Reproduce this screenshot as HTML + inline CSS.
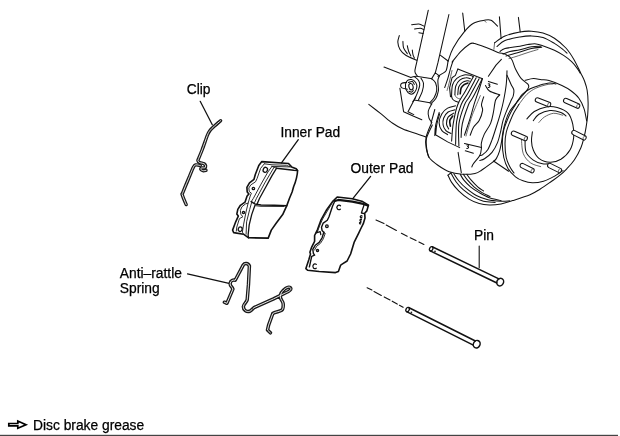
<!DOCTYPE html>
<html><head><meta charset="utf-8">
<style>
html,body{margin:0;padding:0;background:#fff;}
body{width:620px;height:436px;overflow:hidden;position:relative;font-family:"Liberation Sans",sans-serif;}
svg{position:absolute;left:0;top:0;filter:grayscale(1);}
text{font-family:"Liberation Sans",sans-serif;font-size:13.8px;fill:#000;stroke:#000;stroke-width:0.25px;}
.l{fill:none;stroke:#111;stroke-width:1.25;stroke-linecap:round;stroke-linejoin:round;}
.t{fill:none;stroke:#333;stroke-width:0.8;stroke-linecap:round;stroke-linejoin:round;}
.w{fill:none;stroke:#fff;stroke-linecap:round;stroke-linejoin:round;}
#brake .l{stroke-width:1.05;}
#innerpad .t,#outerpad .t{stroke-width:0.95;stroke:#222;}
#innerpad .l,#outerpad .l{stroke-width:1.3;}
#brake .t{stroke-width:0.75;}
.k{fill:none;stroke:#1a1a1a;stroke-linecap:round;stroke-linejoin:round;}
</style></head><body>
<svg width="620" height="436" viewBox="0 0 620 436">
<rect width="620" height="436" fill="#fff"/>
<!-- LABELS -->
<g id="labels">
<text x="186.7" y="94.3">Clip</text>
<text x="280.4" y="136.5">Inner Pad</text>
<text x="350.6" y="172.7">Outer Pad</text>
<text x="474" y="240.4">Pin</text>
<text x="119.8" y="277.6">Anti–rattle</text>
<text x="119.8" y="292.6">Spring</text>
<text x="33" y="429.5">Disc brake grease</text>
</g>
<!-- BOTTOM LINE -->
<rect x="0" y="434.8" width="618" height="1.2" fill="#444"/>
<!-- ARROW -->
<g id="arrow">
<path d="M8.8,423.5 L17.8,423.5 L17.8,421 L26,424.7 L17.8,428.3 L17.8,425.9 L8.8,425.9 Z" fill="#fff" stroke="#000" stroke-width="1.7" stroke-linejoin="miter"/>
</g>
<!-- CLIP -->
<g id="clip">
<path class="l" d="M200.2,101.3 L212.3,124.8"/>
<path class="k" stroke-width="3.4" d="M220.6,120.7 C219.6,121.6 216.3,124.4 214.5,126.0 C212.7,127.6 211.2,128.9 210.0,130.5 C208.8,132.1 208.6,132.2 207.3,135.5 C206.0,138.8 203.7,145.9 202.1,150.0 C200.5,154.1 198.6,158.6 197.9,160.3 L197.9,160.3 C198.0,160.6 198.2,161.6 198.6,162.0 C199.0,162.4 199.6,162.5 200.5,162.8 C201.4,163.1 203.2,163.3 204.1,163.8 C204.9,164.3 205.5,165.1 205.6,165.8 C205.7,166.5 205.5,167.6 204.8,167.9 C204.1,168.2 202.2,167.6 201.6,167.9 C200.9,168.2 200.6,169.0 200.9,169.5 C201.2,170.0 202.6,170.6 203.4,170.7 C204.2,170.8 205.6,170.4 206.0,170.3"/>
<path class="w" stroke-width="0.85" d="M220.6,120.7 C219.6,121.6 216.3,124.4 214.5,126.0 C212.7,127.6 211.2,128.9 210.0,130.5 C208.8,132.1 208.6,132.2 207.3,135.5 C206.0,138.8 203.7,145.9 202.1,150.0 C200.5,154.1 198.6,158.6 197.9,160.3 L197.9,160.3 C198.0,160.6 198.2,161.6 198.6,162.0 C199.0,162.4 199.6,162.5 200.5,162.8 C201.4,163.1 203.2,163.3 204.1,163.8 C204.9,164.3 205.5,165.1 205.6,165.8 C205.7,166.5 205.5,167.6 204.8,167.9 C204.1,168.2 202.2,167.6 201.6,167.9 C200.9,168.2 200.6,169.0 200.9,169.5 C201.2,170.0 202.6,170.6 203.4,170.7 C204.2,170.8 205.6,170.4 206.0,170.3"/>
<path class="k" stroke-width="3.4" d="M200.3,165.6 C199.6,165.5 197.1,164.6 195.9,164.9 C194.8,165.2 194.7,164.7 193.4,167.2 C192.1,169.7 189.8,175.8 188.0,180.0 C186.2,184.2 183.8,190.1 182.8,192.6 C181.9,195.1 181.7,192.9 182.3,194.9 C182.9,196.9 185.5,203.0 186.2,204.6"/>
<path class="w" stroke-width="0.85" d="M200.3,165.6 C199.6,165.5 197.1,164.6 195.9,164.9 C194.8,165.2 194.7,164.7 193.4,167.2 C192.1,169.7 189.8,175.8 188.0,180.0 C186.2,184.2 183.8,190.1 182.8,192.6 C181.9,195.1 181.7,192.9 182.3,194.9 C182.9,196.9 185.5,203.0 186.2,204.6"/>
</g>
<!-- INNERPAD -->
<g id="innerpad">
<path class="l" d="M298.3,139.7 L281.5,162.9"/>
<path class="l" style="stroke-width:1.6" d="M261.8,161.6 L288.5,163.5 L291.6,166.9 L296.2,168.7 L297.6,170.5 C297.4,175 296,181 293.6,186.8 L292.1,192 L289.5,198.3 L286.8,205.6 L282.7,214.6 L276.5,222.8 L271.3,230.1 L268.2,238.1 L248.6,237.8 L243.5,234.2 L233.7,232.6 L232.6,230.1 L235.7,221.8 L238.3,216.1 L236.8,214.1 L237.8,209.4 L240.4,205.3 L245,202.2 L247.1,196 L248.9,193.9 L247.2,191.9 L246.9,187.4 L249.5,182.8 L254,179.3 L255.3,174.5 L258.8,165.5 Z"/>
<!-- inner top line and inner left line -->
<path class="t" d="M264.3,163.8 L272,164.8 L286.4,165.3 L290.5,167"/>
<path class="t" d="M264.3,163.8 L260.6,168.4 L257,178.7 L255.5,181.8 L250.8,184.9 L248.8,188 L249.3,191.6 L251.4,193.2 L250.2,196 L248.1,203.2 L245.5,203.9 L241.9,206.8 L240.4,210.4 L240.9,214.6 L243,216.6 L239.4,218.7 L236.8,227 L236.3,231.1"/>
<!-- friction top -->
<path class="l" style="stroke-width:1.6" d="M276.6,168.2 L293.7,170.3 L297.4,170.5"/>
<path class="t" d="M272,166.4 L289.5,166.9"/>
<path class="t" d="M272,166.4 L276.6,168.2"/>
<!-- three diagonal lines -->
<path class="t" d="M272,166.4 L267.9,172 L260.6,184.9 L253.4,198.3 L251.2,201.7"/>
<path class="t" d="M274,167.4 L264.8,182.9 L256.5,198.3 L254.6,202.5"/>
<path class="l" d="M276.6,168.2 L272,175.6 L265.8,187 L259.6,198.3 L257.2,203.8"/>
<!-- groove -->
<path class="l" style="stroke-width:1.5" d="M251.2,201.7 L254.8,203.9 L261,204.9 L274.4,205.3 L286.8,205.7"/>
<path class="t" d="M254.8,205.6 L261,206.3 L284,206.5"/>
<!-- lower pad left edge + plate edge -->
<path class="l" d="M254.8,205.8 L251.7,214.6 L249.2,224.9 L248.1,235.2 L248.6,237.8"/>
<path class="t" d="M251.7,202.2 L249.7,209.4 L246.6,221.8 L246.1,234.2"/>
<path class="t" d="M248.1,203.2 L246,212 L243.5,224.9 L242.4,232.1 L243.5,234.2"/>
<!-- holes -->
<ellipse class="l" cx="265.3" cy="169.8" rx="2.1" ry="2.5" transform="rotate(25 265.3 169.8)"/>
<circle class="l" cx="253.4" cy="188.5" r="1.2"/>
<circle class="l" cx="243.5" cy="212.5" r="1.1"/>
<ellipse class="l" cx="240.2" cy="229.2" rx="1.9" ry="2.3" transform="rotate(20 240.2 229.2)"/>
</g>
<!-- OUTERPAD -->
<g id="outerpad">
<path class="l" d="M370.6,176.4 L352.8,198.6"/>
<path class="l" style="stroke-width:1.6" d="M337.2,197 L352.3,198.7 L362.7,201.6 L368.5,205.1 L366.8,210.9 L364.7,213.2 L365,217.9 L363.3,223.7 L360.4,229.5 L358.7,233.1 L354.1,242.4 L350.6,254 L347.1,261 L342.5,263.9 L340.7,265.1 L338.4,271.5 L335.5,272.6 L319.2,271.5 L307.6,270.3 L305.9,268.6 L308.8,259.8 L310.5,254 L309.9,252.3 L311.7,247.1 L314.6,241.3 L314.6,235.5 L317.5,229.6 L320.9,220.2 L326.7,209.7 L332.5,201.6 Z"/>
<!-- thick second top line -->
<path class="l" style="stroke-width:2.1" d="M334.8,201 L338.3,199.9 L352.3,201.6 L363.3,203.9 L367.8,205.6"/>
<!-- notch -->
<path class="l" d="M364.2,204.4 L361.4,213 L364.4,213.7"/>
<!-- inner left contour -->
<path class="l" style="stroke-width:1.4" d="M334.8,201 L332.5,206.3 L329,216.7 L327.3,220.2 L323.2,223.1 L321.5,227.2 L322.1,230.6 L324.4,233 L323.9,232 L322.1,237.8 L319.2,242.4 L315.2,245.3 L312.8,249.4 L313.4,253.5 L314.6,255.2 L311.7,256.4 L309.4,266.8"/>
<path class="t" d="M333.6,200.6 L326.7,212.1 L322.6,219 L319.5,226 L317.4,231.8"/>
<path class="t" d="M325.2,233.5 L323.3,238.8 L320.4,243.4 L316.6,246.3 L314.6,250"/>
<path class="l" d="M316.2,232.8 L320.2,231.6 L320.8,234.6"/>
<!-- holes -->
<path class="l" d="M340.5,205.8 A2.1,2.3 0 1 0 340.3,209.2"/>
<circle class="l" cx="326.9" cy="226.2" r="1.3"/>
<circle class="l" cx="317.5" cy="250.6" r="1.1"/>
<path class="l" d="M316.3,264.4 A2.1,2.4 0 1 0 316.2,268.2"/>
<path class="l" d="M362,216 A1,1 0 1 0 361.8,217.6"/>
<path class="l" d="M361.4,219.4 A0.9,0.9 0 1 0 361.2,221 M360.8,222.4 A0.8,0.8 0 1 0 360.6,223.8"/>
</g>
<!-- SPRING -->
<g id="spring">
<path class="l" d="M187.5,273.8 L229,283.4"/>
<path class="k" stroke-width="3.5" d="M224.4,302.2 L226.9,303.3 L229.6,296.9 L232.9,289.1 C232,286.5 229.8,286 230.2,283.2 C230.6,280.5 233,279.8 235.2,280.2 L240.3,270.6 L243.3,264.9 C244.5,263 248,262.8 249.4,266 L248.5,284.2 L247.2,299.8 C246.5,302.5 243.5,304 243.4,306.5 C243.3,310 246.5,312.2 249.6,311.3 C251.5,310.6 252.5,308.8 254,307.6 L273.5,298.9 L285.2,293 C288,291.8 291.2,290.6 290.8,288.6 C290.3,286.4 287.6,287 285.6,288.4 C283,290.2 280.3,293 280.3,296.9 C280.4,299.5 283,301.2 283.2,303.9 C283.4,306.8 283.3,309 281.6,310.3 C279.5,311.6 275,311.9 272.8,313.5 L268.6,325.2 L267.5,330 L270.4,332.8"/>
<path class="w" stroke-width="0.9" d="M224.4,302.2 L226.9,303.3 L229.6,296.9 L232.9,289.1 C232,286.5 229.8,286 230.2,283.2 C230.6,280.5 233,279.8 235.2,280.2 L240.3,270.6 L243.3,264.9 C244.5,263 248,262.8 249.4,266 L248.5,284.2 L247.2,299.8 C246.5,302.5 243.5,304 243.4,306.5 C243.3,310 246.5,312.2 249.6,311.3 C251.5,310.6 252.5,308.8 254,307.6 L273.5,298.9 L285.2,293 C288,291.8 291.2,290.6 290.8,288.6 C290.3,286.4 287.6,287 285.6,288.4 C283,290.2 280.3,293 280.3,296.9 C280.4,299.5 283,301.2 283.2,303.9 C283.4,306.8 283.3,309 281.6,310.3 C279.5,311.6 275,311.9 272.8,313.5 L268.6,325.2 L267.5,330 L270.4,332.8"/>
</g>
<!-- PINS -->
<g id="pins">
<path class="l" style="stroke-width:1.1" d="M479.2,246 L479.2,267.8"/>
<path class="l" style="stroke-width:1.1" stroke-linecap="butt" d="M376.0,220.0 L384.0,223.6 M386.2,225.0 L396.4,230.4 M401.4,233.3 L407.2,236.2 M410.2,237.7 L416.0,240.6 M418.9,242.0 L423.9,244.5 M367.1,287.7 L371.9,290.0 M374.0,291.5 L381.3,295.4 M384.2,296.9 L390.0,300.0 M392.2,301.2 L397.2,304.1 M399.4,305.3 L403.1,307.3 "/>
<path d="M432.2,246.7 L498.9,278.9 L496.9,283.0 L430.2,250.9 Z" fill="#fff" stroke="none"/>
<path class="l" style="stroke-width:1.5" d="M432.2,246.7 L498.9,278.9"/>
<path class="l" style="stroke-width:1.5" d="M430.2,250.9 L496.9,283.0"/>
<ellipse class="l" style="stroke-width:1.3" cx="431.2" cy="248.8" rx="1.6" ry="2.3" fill="#fff" transform="rotate(25.8 431.2 248.8)"/>
<circle cx="435.0" cy="251.4" r="0.85" fill="#222"/>
<ellipse class="l" style="stroke-width:1.5" cx="500.2" cy="282.1" rx="3.3" ry="3.9" fill="#fff" transform="rotate(25.8 500.2 282.1)"/>
<path d="M408.6,307.5 L475.4,341.0 L473.3,345.1 L406.6,311.7 Z" fill="#fff" stroke="none"/>
<path class="l" style="stroke-width:1.5" d="M408.6,307.5 L475.4,341.0"/>
<path class="l" style="stroke-width:1.5" d="M406.6,311.7 L473.3,345.1"/>
<ellipse class="l" style="stroke-width:1.3" cx="407.6" cy="309.6" rx="1.6" ry="2.3" fill="#fff" transform="rotate(26.6 407.6 309.6)"/>
<circle cx="411.4" cy="312.3" r="0.85" fill="#222"/>
<ellipse class="l" style="stroke-width:1.5" cx="476.7" cy="344.2" rx="3.3" ry="3.9" fill="#fff" transform="rotate(26.6 476.7 344.2)"/>
</g>
<!-- BRAKE -->
<g id="brake">
<path class="l" d="M428.3,10.2 C427.3,14.5 424.4,27.6 422.5,36.3 C420.6,45.0 418.0,56.5 416.7,62.4 C415.4,68.3 414.8,69.3 414.9,71.5 C415.0,73.7 416.8,75.0 417.2,75.7"/>
<path class="l" d="M448.9,14.5 L438.0,62.4 L435.3,72.8"/>
<path class="l" d="M431.7,78.6 L435.3,72.8 L439.4,75.9"/>
<path class="l" d="M411.6,24.7 C412.8,24.6 416.8,23.8 418.9,24.0 C420.9,24.2 423.1,25.8 423.9,26.1"/>
<path class="l" d="M414.5,29.0 C415.5,28.9 418.7,28.2 420.3,28.3 C421.9,28.4 423.3,29.6 423.9,29.8"/>
<path class="l" d="M418.9,32.7 L423.2,33.4"/>
<path class="l" d="M399.3,35.6 C399.1,36.7 397.7,39.8 397.8,42.1 C397.9,44.4 398.7,47.2 400.0,49.4 C401.3,51.6 403.0,53.4 405.8,55.2 C408.6,57.0 414.9,59.4 416.7,60.2"/>
<path class="l" d="M402.9,41.4 C403.0,42.5 402.9,45.8 403.6,47.9 C404.3,50.0 406.7,52.7 407.3,53.7"/>
<path class="l" d="M407.3,45.7 C407.5,46.7 408.1,49.8 408.7,51.5 C409.3,53.2 410.5,55.2 410.9,55.9"/>
<path class="l" d="M412.3,50.1 C412.4,51.0 412.7,53.9 413.1,55.2 C413.5,56.5 414.3,57.6 414.5,58.1"/>
<path class="l" d="M384.0,67.1 L410.9,77.6"/>
<path class="l" d="M414.3,76.6 C415.0,77.2 417.7,79.0 418.6,80.5 C419.5,82.0 419.9,83.5 419.7,85.4 C419.5,87.3 418.5,89.8 417.7,92.1 C416.9,94.3 415.5,97.3 414.7,98.9 C413.9,100.5 413.1,101.1 412.8,101.6"/>
<path class="l" d="M421.0,78.2 C421.4,79.1 423.3,81.2 423.5,83.4 C423.7,85.7 423.1,88.9 422.2,91.7 C421.3,94.5 418.9,98.9 418.3,100.3"/>
<path class="l" d="M411.4,77.3 C412.2,77.1 414.1,76.2 416.2,76.2 C418.3,76.2 421.4,77.1 424.0,77.5 C426.6,77.9 430.4,78.6 431.7,78.8"/>
<path class="l" d="M431.7,78.8 C432.4,79.5 434.8,81.1 435.6,83.0 C436.4,84.9 436.9,87.8 436.7,90.2 C436.5,92.6 435.3,95.4 434.2,97.5 C433.1,99.6 430.5,101.9 429.8,102.8"/>
<path class="l" d="M439.4,75.9 C439.1,76.6 438.1,78.3 437.9,80.0 C437.7,81.7 438.1,84.1 438.2,86.0 C438.3,87.9 438.7,89.1 438.3,91.2 C437.9,93.3 437.1,96.4 435.8,98.5 C434.5,100.6 431.4,103.1 430.5,104.0"/>
<path class="l" d="M414.3,99.9 L429.8,102.8"/>
<path class="l" d="M406.6,82.4 C405.8,82.6 402.9,82.8 401.9,83.3 C400.9,83.8 400.6,84.8 400.6,85.6 C400.6,86.4 400.8,87.3 401.9,87.9 C403.0,88.5 406.5,89.0 407.4,89.2"/>
<path class="l" d="M408.0,92.6 C407.6,91.8 405.8,89.8 405.5,88.0 C405.2,86.2 405.5,82.9 406.5,81.5 C407.5,80.1 409.9,79.4 411.4,79.6 C412.9,79.8 414.8,81.2 415.7,82.5 C416.6,83.8 417.0,85.7 416.8,87.3 C416.6,88.9 415.6,90.9 414.7,92.1 C413.8,93.2 412.5,94.1 411.4,94.2 C410.3,94.3 408.6,92.9 408.0,92.6"/>
<path class="l" d="M408.5,82.5 C409.1,82.3 411.3,81.2 412.3,81.5 C413.3,81.8 414.0,83.9 414.3,84.4"/>
<path class="l" d="M408.9,91.2 C409.4,91.3 411.1,92.3 411.8,92.1 C412.5,91.9 413.1,90.5 413.3,90.2"/>
<ellipse class="l" cx="411" cy="86.7" rx="2.1" ry="3.2" transform="rotate(-15 411 86.7)"/>
<path class="l" d="M399.9,88.3 L403.6,111.7 L413.1,116.0 L421.8,119.7"/>
<path class="l" d="M415.7,97.0 L408.0,111.7 L413.8,114.6"/>
<path class="l" d="M368.8,104.4 C370.9,106.0 377.1,110.8 381.1,113.9 C385.1,117.1 389.1,120.8 392.7,123.3 C396.3,125.8 399.0,127.4 402.9,129.1 C406.8,130.8 412.1,132.2 416.0,133.5 C419.9,134.8 424.4,136.5 426.1,137.1"/>
<path class="l" d="M431.9,103.7 C431.3,104.9 428.8,108.6 428.3,111.0 C427.8,113.4 428.4,116.3 429.0,118.2 C429.6,120.1 431.4,121.9 431.9,122.6"/>
<path class="l" d="M431.5,123.0 C430.6,125.3 427.0,133.0 426.1,137.1 C425.2,141.2 425.6,143.9 426.1,147.3 C426.6,150.7 428.5,155.7 429.0,157.4"/>
<path class="l" d="M434.8,109.5 L431.2,122.6"/>
<path class="l" d="M439.2,112.4 C438.6,114.6 436.3,121.6 435.6,125.5 C434.9,129.4 434.9,133.9 434.8,135.6"/>
<path class="l" d="M462.7,13.1 L464.8,31.2"/>
<path class="l" d="M448.1,61.0 C449.0,58.8 450.4,52.9 453.2,47.9 C456.0,42.9 461.4,35.3 464.8,31.2 C468.2,27.1 470.2,25.0 473.5,23.2 C476.8,21.4 481.5,20.8 484.4,20.3 C487.3,19.8 488.8,19.3 491.0,20.3 C493.2,21.3 496.4,25.1 497.5,26.1"/>
<path class="t" d="M484.5,20.8 L486.0,22.3"/>
<path class="l" d="M499.4,16.7 L501.1,38.5"/>
<path class="l" d="M518.4,17.4 L520.2,31.9"/>
<path class="l" d="M440.2,55.2 L448.1,61.0"/>
<path class="l" d="M452.1,62.1 C453.6,60.3 458.0,54.4 460.9,51.4 C463.8,48.4 467.6,45.4 469.7,44.0 C471.8,42.6 473.0,43.3 473.6,43.2"/>
<path class="l" d="M473.6,43.2 C475.7,43.9 482.1,46.0 486.2,47.5 C490.2,49.0 494.6,51.2 497.9,52.4 C501.1,53.5 503.4,53.3 505.7,54.4 C508.0,55.5 510.0,56.8 511.6,59.2 C513.2,61.6 513.9,65.8 515.5,69.0 C517.1,72.2 519.2,76.2 521.3,78.7 C523.4,81.2 526.7,82.7 527.9,84.2 C529.1,85.7 529.1,86.1 528.5,87.6 C527.9,89.1 526.3,91.0 524.5,93.3 C522.7,95.6 518.8,99.9 517.7,101.2"/>
<path class="l" d="M501.4,59.4 L496.0,65.1 L488.4,76.3"/>
<path class="l" d="M507.0,70.7 C506.9,72.9 506.9,78.9 506.3,83.8 C505.8,88.7 504.7,95.0 503.7,100.0 C502.7,105.0 501.6,109.2 500.3,113.8 C499.0,118.4 497.5,123.2 496.1,127.5 C494.7,131.8 493.4,136.2 492.0,139.9 C490.6,143.6 489.4,147.1 487.9,149.5 C486.4,151.9 484.1,153.6 482.8,154.6 C481.5,155.6 480.3,155.4 479.8,155.6"/>
<path class="l" d="M507.0,75.2 C507.7,76.7 509.9,81.8 511.0,84.2 C512.1,86.7 513.4,87.9 513.8,89.9 C514.2,91.9 513.6,94.3 513.2,96.0 C512.8,97.7 512.3,97.7 511.3,100.0 C510.3,102.3 508.5,106.2 507.1,109.6 C505.7,113.0 504.0,117.1 503.0,120.6 C502.0,124.0 501.8,126.6 500.9,130.3 C500.0,134.0 499.0,138.9 497.5,142.6 C496.0,146.3 494.2,149.6 492.0,152.3 C489.8,155.0 486.5,157.4 484.5,158.8 C482.5,160.2 480.6,160.2 479.8,160.5"/>
<path class="t" d="M494.6,42.8 L493.9,49.3"/>
<path class="l" d="M494.6,42.8 C496.3,41.7 500.8,37.8 505.0,36.0 C509.2,34.2 515.6,32.7 520.0,31.9 C524.4,31.1 527.7,31.0 531.5,31.2 C535.3,31.4 539.2,31.8 543.0,33.0 C546.8,34.2 550.6,35.7 554.4,38.2 C558.2,40.7 562.6,44.5 565.9,48.0 C569.1,51.5 571.4,55.2 573.9,59.4 C576.4,63.6 579.0,69.6 580.8,73.2 C582.6,76.8 583.5,78.2 584.5,81.0 C585.5,83.8 586.5,86.4 587.1,90.0 C587.7,93.6 588.0,98.3 588.1,102.4 C588.2,106.5 588.0,110.6 587.7,114.7 C587.4,118.8 586.7,123.3 586.1,127.1 C585.5,130.9 584.9,134.0 584.0,137.4 C583.1,140.8 582.5,143.9 580.9,147.7 C579.3,151.5 576.6,156.5 574.3,160.0 C571.9,163.5 569.2,166.3 566.8,168.8 C564.4,171.3 562.5,173.1 560.0,175.2 C557.5,177.3 554.9,179.0 551.6,181.3 C548.3,183.6 543.9,186.8 540.3,189.0 C536.7,191.2 534.6,192.9 530.0,194.8 C525.4,196.7 517.4,199.1 512.6,200.6 C507.8,202.1 504.9,203.2 501.0,203.9 C497.1,204.6 492.9,205.0 489.3,204.9 C485.7,204.8 482.6,204.5 479.2,203.5 C475.8,202.5 472.4,201.2 469.0,199.1 C465.6,197.0 461.8,193.9 458.9,191.1 C456.0,188.3 453.4,185.1 451.6,182.4 C449.8,179.8 448.6,176.4 448.0,175.2"/>
<path class="l" d="M497.0,46.5 C498.3,45.5 501.2,42.2 505.0,40.6 C508.8,39.0 515.6,37.8 520.0,37.0 C524.4,36.2 527.7,35.8 531.5,35.9 C535.3,36.0 539.2,36.4 543.0,37.6 C546.8,38.9 551.1,41.5 554.4,43.4 C557.6,45.3 560.4,47.5 562.5,49.1 C564.6,50.7 566.2,52.4 567.0,53.1"/>
<path class="l" d="M500.0,51.5 C500.8,51.0 501.7,49.4 505.0,48.5 C508.3,47.6 516.2,46.9 520.0,46.2 C523.8,45.5 525.3,44.9 528.0,44.5 C530.7,44.1 533.4,43.6 536.1,43.9 C538.8,44.2 541.1,45.2 544.1,46.2 C547.1,47.2 551.1,48.7 554.4,50.2 C557.6,51.7 560.7,53.5 563.6,55.4 C566.5,57.3 569.3,59.5 571.6,61.7 C573.9,63.9 576.0,66.7 577.4,68.6 C578.8,70.5 579.7,72.4 580.2,73.2"/>
<path class="l" d="M503.0,54.0 C504.2,53.6 507.2,52.2 510.0,51.5 C512.8,50.8 516.4,50.5 520.0,49.7 C523.6,48.9 528.0,47.4 531.5,46.8 C535.0,46.2 539.4,46.3 541.0,46.2"/>
<path class="l" d="M506.0,56.0 C507.2,55.7 510.7,54.7 513.0,54.0 C515.3,53.3 516.9,52.9 520.0,52.0 C523.1,51.1 527.9,49.3 531.5,48.5 C535.1,47.7 540.1,47.4 541.8,47.2"/>
<path class="t" d="M509.0,58.5 C510.2,58.2 512.8,57.5 516.0,56.5 C519.2,55.5 524.3,53.7 528.0,52.5 C531.7,51.3 536.3,50.0 538.0,49.5"/>
<path class="l" d="M525.1,80.3 C526.5,80.0 530.8,78.7 533.5,78.6 C536.2,78.5 538.9,79.4 541.5,79.7 C544.1,80.0 545.6,79.6 549.0,80.6 C552.4,81.6 558.3,83.8 561.9,85.5 C565.5,87.2 567.8,88.4 570.6,90.5 C573.4,92.6 576.7,95.2 578.9,98.2 C581.1,101.2 582.7,104.8 584.0,108.6 C585.3,112.4 586.2,118.9 586.7,120.9"/>
<path class="l" d="M515.5,104.5 C516.6,102.8 519.8,97.0 522.3,94.4 C524.8,91.8 527.4,90.2 530.2,88.7 C533.0,87.2 536.0,86.3 539.2,85.4 C542.4,84.5 546.6,83.3 549.4,83.1 C552.2,82.9 554.9,83.8 556.0,84.0"/>
<path class="t" d="M518.9,104.5 C520.2,102.8 524.0,97.1 526.8,94.4 C529.6,91.7 532.6,89.8 535.8,88.2 C539.0,86.6 543.1,85.5 546.0,84.8 C548.9,84.1 551.8,84.1 553.0,84.0"/>
<path class="l" d="M515.5,104.5 C514.8,105.8 512.4,109.4 511.0,112.0 C509.6,114.6 508.5,117.0 507.3,120.0 C506.1,123.0 504.6,126.2 503.8,130.0 C503.0,133.8 502.3,138.4 502.3,143.0 C502.3,147.6 502.9,153.2 503.8,157.5 C504.8,161.8 506.1,165.3 508.0,168.5 C509.9,171.7 513.0,174.8 515.5,176.8 C518.0,178.9 520.2,179.8 523.0,180.8 C525.8,181.8 528.9,182.7 532.3,182.8 C535.7,182.9 540.0,182.2 543.5,181.2 C547.0,180.2 550.6,178.2 553.2,176.9 C555.8,175.6 557.4,174.2 559.0,173.2 C560.6,172.1 562.3,171.0 563.0,170.6"/>
<path class="l" d="M518.9,104.5 C518.1,105.8 515.5,109.6 514.0,112.5 C512.5,115.4 511.1,118.8 509.8,122.0 C508.5,125.2 507.1,128.4 506.3,132.0 C505.5,135.6 505.0,139.6 505.0,143.8 C505.0,148.1 505.4,153.6 506.2,157.5 C507.0,161.4 508.7,164.5 510.0,167.1 C511.3,169.7 513.3,172.0 514.0,173.0"/>
<path class="l" d="M526.9,118.9 C528.1,117.7 531.1,113.5 534.3,111.5 C537.5,109.5 542.4,107.6 546.2,106.9 C550.0,106.2 553.5,106.5 557.2,107.6 C560.9,108.7 565.6,110.5 568.2,113.3 C570.8,116.1 571.9,120.4 572.8,124.4 C573.7,128.4 574.2,132.9 573.7,137.2 C573.2,141.5 572.1,146.3 570.0,150.0 C567.9,153.7 564.2,157.1 560.9,159.2 C557.5,161.2 553.6,162.5 549.9,162.3 C546.2,162.2 541.7,160.4 538.9,158.3 C536.1,156.2 534.5,152.9 533.3,150.0 C532.1,147.1 531.6,144.0 531.5,140.9 C531.4,137.8 532.2,133.2 532.4,131.7"/>
<path class="l" d="M533.3,120.7 C534.2,119.6 536.1,116.0 538.9,114.3 C541.7,112.6 546.2,110.9 549.9,110.6 C553.6,110.3 558.2,111.5 560.9,112.4 C563.6,113.3 565.1,115.4 566.0,116.0"/>
<path class="t" d="M538.9,122.5 C539.8,121.6 542.0,118.5 544.4,117.0 C546.8,115.5 550.5,113.6 553.5,113.3 C556.5,113.0 561.2,114.9 562.7,115.2"/>
<path class="l" d="M525.1,138.5 C525.2,140.7 524.6,148.3 526.0,151.9 C527.4,155.5 530.5,158.1 533.3,160.1 C536.0,162.1 539.7,163.2 542.5,163.8 C545.3,164.4 548.7,163.8 549.9,163.8"/>
<path class="t" d="M521.4,139.0 C521.7,141.4 521.8,149.7 523.3,153.7 C524.8,157.7 527.7,160.8 530.6,162.9 C533.5,165.1 539.0,166.0 540.7,166.6"/>
<path class="l" fill="#fff" d="M538.3,97.9 L550.0,102.5 A1.4,2.2 21.5 0 1 548.4,106.7 L536.7,102.1 A2.2,2.2 21.5 0 1 538.3,97.9 Z" style="fill:#fff"/>
<path class="t" d="M550.0,102.5 A1.4,2.2 21.5 0 0 548.4,106.7"/>
<path class="l" fill="#fff" d="M566.7,98.5 L579.1,104.1 A1.4,2.2 24.3 0 1 577.3,108.3 L564.9,102.7 A2.2,2.2 24.3 0 1 566.7,98.5 Z" style="fill:#fff"/>
<path class="t" d="M579.1,104.1 A1.4,2.2 24.3 0 0 577.3,108.3"/>
<path class="l" fill="#fff" d="M575.0,130.6 L585.6,136.0 A1.4,2.2 27.0 0 1 583.6,140.0 L573.0,134.6 A2.2,2.2 27.0 0 1 575.0,130.6 Z" style="fill:#fff"/>
<path class="t" d="M585.6,136.0 A1.4,2.2 27.0 0 0 583.6,140.0"/>
<path class="l" fill="#fff" d="M514.5,131.3 L526.7,136.5 A1.4,2.2 23.1 0 1 524.9,140.7 L512.7,135.5 A2.2,2.2 23.1 0 1 514.5,131.3 Z" style="fill:#fff"/>
<path class="t" d="M526.7,136.5 A1.4,2.2 23.1 0 0 524.9,140.7"/>
<path class="l" fill="#fff" d="M523.3,163.6 L533.6,168.8 A1.4,2.2 26.8 0 1 531.6,172.8 L521.3,167.6 A2.2,2.2 26.8 0 1 523.3,163.6 Z" style="fill:#fff"/>
<path class="t" d="M533.6,168.8 A1.4,2.2 26.8 0 0 531.6,172.8"/>
<path class="l" fill="#fff" d="M550.8,163.6 L561.0,168.6 A1.4,2.2 26.1 0 1 559.0,172.6 L548.8,167.6 A2.2,2.2 26.1 0 1 550.8,163.6 Z" style="fill:#fff"/>
<path class="t" d="M561.0,168.6 A1.4,2.2 26.1 0 0 559.0,172.6"/>
<path class="l" d="M457.8,69.1 L482.5,78.7"/>
<path class="l" d="M457.8,69.1 L455.4,75.4 L452.0,77.8 L449.6,87.9 L450.5,96.7"/>
<path class="l" d="M439.7,113.7 C439.2,115.4 437.6,120.5 436.9,123.9 C436.2,127.3 435.9,132.3 435.7,134.0"/>
<path class="l" d="M435.5,128.2 L435.5,134.7 L447.6,141.9 L459.7,147.6"/>
<path class="l" d="M458.1,152.4 L461.3,172.6"/>
<path class="l" d="M448.1,60.8 C447.8,62.4 447.2,68.3 446.2,70.5 C445.1,72.7 443.2,72.9 441.8,73.9 C440.4,74.9 438.5,75.9 437.9,76.3"/>
<path class="l" d="M452.9,61.3 C452.5,62.5 451.4,65.6 450.5,68.6 C449.6,71.6 448.6,76.0 447.6,79.2 C446.6,82.4 445.2,86.1 444.7,87.5"/>
<path class="t" d="M452.0,70.5 C451.5,72.6 449.9,79.8 449.1,83.1 C448.3,86.4 447.4,89.2 447.1,90.4"/>
<path class="l" d="M451.5,96.7 C451.7,94.8 451.6,88.1 452.5,85.0 C453.4,81.9 454.9,80.0 456.8,78.3 C458.7,76.6 461.8,75.4 464.1,74.9 C466.4,74.4 469.3,75.1 470.8,75.4 C472.3,75.7 472.9,76.6 473.3,76.8"/>
<path class="l" d="M454.9,94.7 C455.0,93.2 455.0,88.4 455.8,86.0 C456.6,83.6 458.0,81.6 459.7,80.2 C461.4,78.8 464.2,78.0 466.0,77.8 C467.8,77.5 469.7,78.5 470.4,78.7"/>
<path class="l" d="M457.8,94.7 C457.9,93.4 458.0,89.0 458.7,87.0 C459.4,85.0 460.7,83.6 462.1,82.6 C463.5,81.5 465.8,80.9 467.0,80.7 C468.2,80.5 469.0,81.1 469.4,81.2"/>
<path class="l" style="stroke-width:1.6" d="M460.2,93.8 C460.4,92.8 460.5,89.4 461.2,87.9 C461.9,86.4 463.0,85.4 464.1,84.6 C465.2,83.8 467.3,83.3 467.9,83.1"/>
<path class="l" d="M451.5,96.0 C451.7,96.5 451.8,98.1 452.5,99.0 C453.2,99.9 454.5,100.8 455.5,101.3 C456.5,101.8 458.0,102.1 458.5,102.3"/>
<path class="t" d="M455.0,95.0 C455.2,95.4 455.7,96.8 456.5,97.5 C457.3,98.2 459.4,98.8 460.0,99.0"/>
<path class="l" d="M455.5,105.8 C454.2,106.2 449.9,106.8 447.6,108.1 C445.3,109.4 443.3,111.3 441.9,113.7 C440.5,116.1 439.1,119.9 439.1,122.7 C439.1,125.5 440.5,128.6 441.9,130.6 C443.3,132.6 446.7,133.9 447.6,134.6"/>
<path class="l" d="M454.9,109.8 C453.8,110.2 450.0,110.6 448.1,112.0 C446.2,113.4 444.4,116.0 443.6,118.2 C442.8,120.4 442.7,122.9 443.1,125.0 C443.5,127.1 444.6,129.2 445.9,130.6 C447.2,132.0 450.1,133.0 451.0,133.5"/>
<path class="l" d="M453.8,113.1 C452.9,113.8 449.3,115.3 448.1,117.1 C446.9,118.9 446.4,121.9 446.5,123.9 C446.6,125.9 448.3,128.2 448.7,129.0"/>
<path class="l" style="stroke-width:1.6" d="M452.7,116.0 C452.2,116.8 450.2,118.8 449.8,120.5 C449.4,122.2 450.3,125.2 450.4,126.1"/>
<path class="l" d="M473.3,76.8 C471.9,79.3 467.6,87.1 465.0,91.8 C462.4,96.5 459.7,99.3 457.7,104.7 C455.7,110.1 454.2,117.8 453.2,123.9 C452.2,130.0 451.9,138.2 451.6,141.1"/>
<path class="l" d="M476.2,77.8 C474.8,80.4 470.4,88.8 467.9,93.3 C465.4,97.8 463.0,100.0 461.1,104.7 C459.2,109.4 457.5,115.0 456.6,121.6 C455.7,128.2 455.8,140.6 455.6,144.4"/>
<path class="l" d="M479.1,78.7 C477.5,81.7 471.8,92.4 469.4,96.7 C467.0,101.0 466.2,100.2 464.5,104.7 C462.8,109.2 459.8,117.0 458.9,123.9 C458.0,130.8 458.9,142.3 458.9,146.0"/>
<path class="l" d="M482.0,79.2 C480.5,82.3 475.1,93.3 472.8,97.6 C470.6,101.8 470.2,100.3 468.5,104.7 C466.8,109.1 463.5,118.5 462.3,123.9 C461.1,129.3 461.3,135.2 461.1,137.4"/>
<path class="l" d="M482.5,78.7 C482.0,80.2 480.9,84.0 479.6,88.0 C478.3,92.0 476.3,97.4 474.7,102.4 C473.1,107.4 471.9,112.7 470.2,118.2 C468.5,123.7 465.4,132.4 464.5,135.2"/>
<path class="t" d="M480.3,95.6 C479.0,98.8 474.4,109.5 472.4,114.8 C470.4,120.1 469.6,123.8 468.5,127.3 C467.4,130.8 466.4,134.6 466.0,136.0"/>
<path class="l" d="M483.7,96.8 C483.3,98.1 481.7,102.5 481.5,104.7 C481.3,107.0 483.0,107.7 482.6,110.3 C482.2,112.9 480.7,117.7 479.2,120.5 C477.7,123.3 475.0,124.8 473.5,127.3 C472.0,129.8 470.8,133.9 470.2,135.2"/>
<path class="l" d="M488.4,81.4 L497.4,84.2"/>
<path class="l" d="M485.5,85.5 C486.2,86.4 487.1,89.4 489.5,91.0 C491.9,92.6 498.0,94.2 499.7,94.9"/>
<path class="l" d="M488.2,83.9 c1.8,-0.5 2.2,1.3 0.8,1.7 c1.6,0.2 1.2,2.1 -0.8,1.8"/>
<path class="l" d="M432.3,125.0 C431.4,127.2 427.6,134.1 426.6,137.9 C425.7,141.7 426.2,144.4 426.6,147.6 C427.0,150.8 427.1,154.4 429.0,157.3 C430.9,160.2 434.5,162.9 437.9,165.3 C441.3,167.7 445.2,170.3 449.2,171.8 C453.2,173.3 457.8,173.9 462.1,174.2 C466.4,174.5 471.8,174.1 475.0,173.4 C478.2,172.7 478.6,172.1 481.5,170.2 C484.4,168.3 490.2,164.0 492.7,162.1 C495.2,160.2 495.1,160.5 496.3,158.6 C497.5,156.7 498.7,153.8 499.6,150.9 C500.5,148.0 501.0,144.5 501.6,141.3 C502.2,138.1 502.3,135.1 503.0,131.6 C503.7,128.1 504.7,124.0 505.8,120.6 C506.9,117.2 507.9,114.2 509.9,111.0 C511.9,107.8 516.4,102.8 517.7,101.2"/>
<path class="l" d="M464.5,143.5 L481.5,147.6"/>
<path class="l" d="M465.3,150.8 L473.4,153.2"/>
<path class="l" d="M466.8,144.9 c1.8,-0.5 2.2,1.3 0.8,1.7 c1.6,0.2 1.2,2.1 -0.8,1.8"/>
<path class="l" d="M499.7,94.9 C499.0,95.8 496.7,97.1 495.6,100.0 C494.6,102.9 494.2,108.5 493.4,112.4 C492.6,116.3 492.1,119.7 490.6,123.4 C489.1,127.1 485.7,131.1 484.2,134.4 C482.7,137.7 481.8,140.8 481.4,143.0 C480.9,145.2 481.5,146.8 481.5,147.6"/>
<path class="l" d="M481.5,147.6 C481.2,148.9 481.2,152.9 479.8,155.6 C478.4,158.3 474.7,161.8 473.4,163.7 C472.1,165.6 472.1,166.4 471.8,166.9"/>
<path class="l" d="M448.0,175.2 L450.9,173.0"/>
<path class="l" d="M450.9,173.0 C451.8,174.4 453.9,178.9 456.0,181.7 C458.1,184.5 460.3,187.2 463.2,189.7 C466.1,192.2 470.0,195.0 473.4,196.9 C476.8,198.8 479.9,200.4 483.5,201.3 C487.1,202.2 493.2,202.2 495.2,202.4"/>
<path class="l" d="M453.8,173.7 C454.6,174.9 456.8,178.6 458.9,181.0 C460.9,183.4 463.2,185.8 466.1,188.2 C469.0,190.6 472.7,193.6 476.3,195.5 C479.9,197.4 483.8,198.8 487.9,199.8 C492.0,200.8 497.4,201.1 501.0,201.3 C504.6,201.5 508.1,200.9 509.5,200.8"/>
<path class="l" d="M460.3,174.4 C460.9,175.4 462.2,178.1 463.9,180.2 C465.6,182.3 467.9,184.7 470.5,186.8 C473.1,188.9 476.1,190.8 479.2,192.6 C482.3,194.4 485.7,196.4 489.3,197.7 C492.9,199.0 499.1,200.0 501.0,200.5"/>
<path class="l" d="M463.5,174.4 C464.2,175.4 465.9,178.1 467.6,180.2 C469.4,182.3 471.6,184.7 474.0,186.8 C476.4,188.9 479.4,191.0 482.1,192.6 C484.8,194.2 488.7,195.8 490.0,196.5"/>
<path class="l" d="M466.9,174.4 C467.6,175.4 469.4,178.1 471.2,180.2 C473.0,182.3 475.6,185.0 477.7,186.8 C479.8,188.6 482.5,190.3 483.5,191.0"/>
<path class="l" d="M493.5,161.0 L508.6,171.3"/>
</g>
</svg>
</body></html>
